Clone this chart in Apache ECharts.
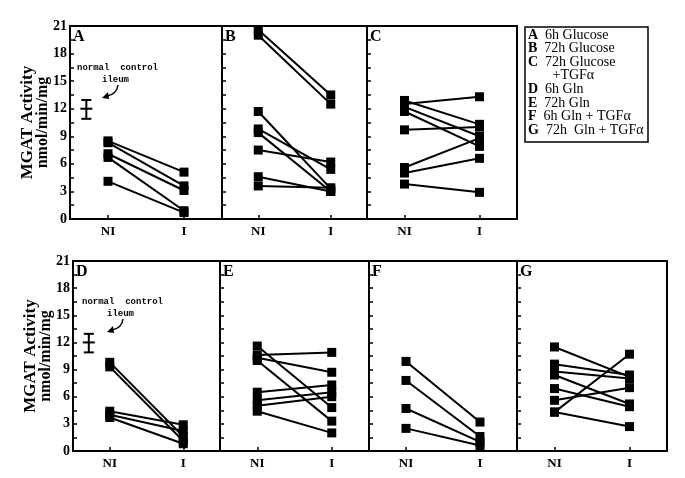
<!DOCTYPE html>
<html>
<head>
<meta charset="utf-8">
<script src="https://cdn.jsdelivr.net/npm/echarts@6/dist/echarts.min.js"></script>
<style>
html, body { margin: 0; padding: 0; background: #fff; }
#chart { width: 685px; height: 478px; }
</style>
</head>
<body>
<div id="chart"></div>
<script>
/*************************************
 *
 * data : MGAT activity NI vs I
 *
 ************************************/
var panelNames = ['A', 'B', 'C', 'D', 'E', 'F', 'G'];
var xLabels = ['NI', 'I'];

var niA = [8.5, 8.3, 7.1, 6.7, 4.1];
var iA  = [5.1, 3.6, 3.1, 0.9, 0.7];
var niB = [20.6, 20.0, 11.7, 9.8, 9.4, 7.5, 4.6, 3.6];
var iB  = [13.5, 12.5, 3.3, 5.4, 3.0, 6.2, 3.0, 3.4];
var niC = [12.9, 12.5, 12.2, 11.7, 9.7, 5.6, 5.0, 3.8];
var iC  = [10.3, 13.3, 9.0, 7.9, 10.0, 8.8, 6.6, 2.9];
var niD = [9.8, 9.3, 4.4, 4.0, 3.7];
var iD  = [1.6, 1.1, 2.9, 2.2, 0.8];
var niE = [10.6, 10.3, 11.6, 10.0, 6.5, 5.6, 5.0, 4.4];
var iE  = [10.9, 8.7, 4.8, 3.3, 7.3, 6.5, 6.0, 2.0];
var niF = [9.9, 7.8, 4.7, 2.5];
var iF  = [3.2, 1.6, 1.0, 0.6];
var niG = [11.5, 9.6, 8.8, 8.4, 6.9, 5.6, 4.3, 4.3];
var iG  = [8.2, 8.4, 8.0, 5.2, 4.9, 7.0, 10.7, 2.7];

// normal control ileum: low, mean, high
var controlStats = [10.9, 12.0, 12.95];

var legendKeys  = ['A', 'B', 'C', '', 'D', 'E', 'F', 'G'];
var legendTexts = ['6h Glucose', '72h Glucose', '72h Glucose', '+TGF\u03b1', '6h Gln',
                   '72h Gln', '6h Gln + TGF\u03b1', '72h  Gln + TGF\u03b1'];

var panelNI = [niA, niB, niC, niD, niE, niF, niG];
var panelI  = [iA, iB, iC, iD, iE, iF, iG];

/*************************************
 *
 * layout
 *
 ************************************/
var serif = "'Liberation Serif', 'DejaVu Serif', serif";
var grids = [
    {left: 70,  top: 26,  width: 152, height: 193},
    {left: 222, top: 26,  width: 145, height: 193},
    {left: 367, top: 26,  width: 150, height: 193},
    {left: 73,  top: 261, width: 147, height: 190},
    {left: 220, top: 261, width: 149, height: 190},
    {left: 369, top: 261, width: 148, height: 190},
    {left: 517, top: 261, width: 150, height: 190}
];
var labelled = [0, 3];

var chart = echarts.init(document.getElementById('chart'));

var gridOpt = [], xAxes = [], yAxes = [], series = [], graphics = [];

grids.forEach(function (g, idx) {
    var showY = labelled.indexOf(idx) >= 0;
    gridOpt.push({
        left: g.left, top: g.top, width: g.width, height: g.height,
        show: true, borderColor: '#000', borderWidth: 2, backgroundColor: 'transparent'
    });
    xAxes.push({
        gridIndex: idx, type: 'value', min: 0, max: 4,
        axisLine: {show: true, onZero: false, lineStyle: {color: '#000', width: 2}},
        axisTick: {show: true, inside: true, length: 4, customValues: [1, 3],
                   lineStyle: {color: '#000', width: 1.5}},
        axisLabel: {show: true, customValues: [1, 3], margin: 6,
                    formatter: function (v) { return v === 1 ? xLabels[0] : xLabels[1]; },
                    fontFamily: serif, fontWeight: 'bold', fontSize: 13, color: '#000'},
        splitLine: {show: false}
    });
    yAxes.push({
        gridIndex: idx, type: 'value', min: 0, max: 21, interval: 1.5,
        axisLine: {show: true, onZero: false, lineStyle: {color: '#000', width: 2}},
        axisTick: {show: true, inside: true, length: 4, lineStyle: {color: '#000', width: 1.5}},
        axisLabel: {show: showY, margin: 3,
                    formatter: function (v) { return v % 3 === 0 ? String(v) : ''; },
                    fontFamily: serif, fontWeight: 'bold', fontSize: 14, color: '#000'},
        splitLine: {show: false},
        name: showY ? '{a|MGAT Activity}\n{b|nmol/min/mg}' : '',
        nameLocation: 'middle', nameRotate: 90, nameGap: 20, nameMoveOverlap: false,
        nameTextStyle: {
            color: '#000', lineHeight: 15,
            rich: {
                a: {fontFamily: serif, fontWeight: 'bold', fontSize: 17, color: '#000', lineHeight: 15},
                b: {fontFamily: serif, fontWeight: 'bold', fontSize: 16, color: '#000', lineHeight: 15}
            }
        }
    });

    panelNI[idx].forEach(function (v, k) {
        series.push({
            type: 'line', xAxisIndex: idx, yAxisIndex: idx,
            data: [[1, v], [3, panelI[idx][k]]],
            symbol: 'rect', symbolSize: 9,
            lineStyle: {color: '#000', width: 2},
            itemStyle: {color: '#000'},
            silent: true, animation: false, clip: false
        });
    });

    graphics.push({
        type: 'text', left: g.left + 3, top: g.top + 3,
        style: {text: panelNames[idx], font: 'bold 16px ' + serif, fill: '#000'}
    });
});

// normal control ileum error bar, panels A and D
labelled.forEach(function (idx) {
    series.push({
        type: 'custom', xAxisIndex: idx, yAxisIndex: idx, animation: false, silent: true,
        data: [[0.43].concat(controlStats)],
        renderItem: function (params, api) {
            var lo = api.coord([api.value(0), api.value(1)]);
            var mid = api.coord([api.value(0), api.value(2)]);
            var hi = api.coord([api.value(0), api.value(3)]);
            var st = {stroke: '#000', lineWidth: 2};
            return {type: 'group', children: [
                {type: 'line', shape: {x1: lo[0], y1: lo[1], x2: hi[0], y2: hi[1]}, style: st},
                {type: 'line', shape: {x1: lo[0] - 5, y1: lo[1], x2: lo[0] + 5, y2: lo[1]}, style: st},
                {type: 'line', shape: {x1: hi[0] - 5, y1: hi[1], x2: hi[0] + 5, y2: hi[1]}, style: st},
                {type: 'line', shape: {x1: mid[0] - 6, y1: mid[1], x2: mid[0] + 6, y2: mid[1]}, style: st}
            ]};
        }
    });
});

// annotation text + curved arrow
[[0, 0], [5, 234]].forEach(function (off) {
    var dx = off[0], dy = off[1];
    graphics.push({
        type: 'text', left: 77 + dx, top: 63 + dy,
        style: {text: 'normal  control', font: 'bold 9px "Liberation Mono", monospace', fill: '#000'}
    });
    graphics.push({
        type: 'text', left: 102 + dx, top: 75 + dy,
        style: {text: 'ileum', font: 'bold 9px "Liberation Mono", monospace', fill: '#000'}
    });
    graphics.push({
        type: 'bezierCurve',
        shape: {x1: 118 + dx, y1: 85 + dy, cpx1: 117 + dx, cpy1: 94 + dy, x2: 107 + dx, y2: 96 + dy},
        style: {stroke: '#000', lineWidth: 1.5, fill: null}
    });
    graphics.push({
        type: 'polygon',
        shape: {points: [[102 + dx, 98 + dy], [108 + dx, 92 + dy], [109 + dx, 99 + dy]]},
        style: {fill: '#000'}
    });
});

// legend box
var legendRows = [];
legendKeys.forEach(function (key, k) {
    legendRows.push({
        type: 'text', x: 528, y: 35 + k * 13.6,
        style: {
            text: key ? '{k|' + key + '}  ' + legendTexts[k] : '       ' + legendTexts[k],
            font: '14px ' + serif, fill: '#000', verticalAlign: 'middle',
            rich: {k: {font: 'bold 14px ' + serif, fill: '#000'}}
        }
    });
});
graphics.push({
    type: 'rect', shape: {x: 525, y: 27, width: 123, height: 115},
    style: {stroke: '#000', lineWidth: 1.5, fill: '#fff'}
});
graphics = graphics.concat(legendRows);

chart.setOption({
    animation: false,
    grid: gridOpt,
    xAxis: xAxes,
    yAxis: yAxes,
    series: series,
    graphic: graphics
});
</script>
</body>
</html>
